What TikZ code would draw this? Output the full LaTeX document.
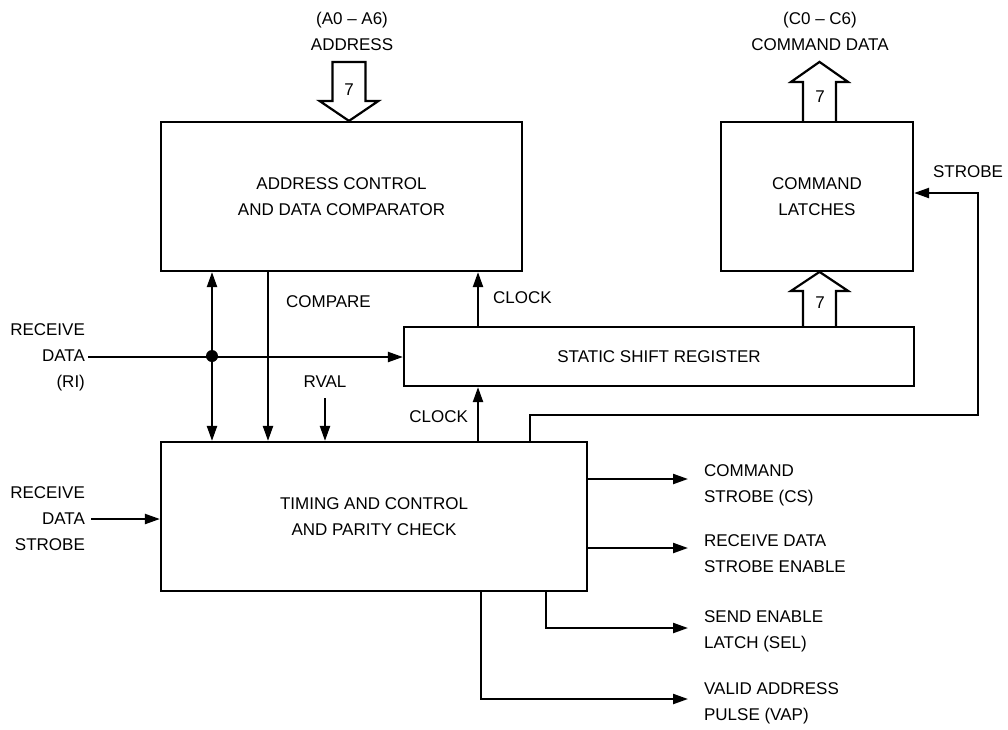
\documentclass[tikz,border=0pt]{standalone}
\usepackage{fontspec}
\setmainfont{Liberation Sans}
\usetikzlibrary{arrows.meta}
\begin{document}
\begin{tikzpicture}[x=1pt,y=-1pt,line width=2.2pt,
  every node/.style={font=\fontsize{17}{26}\selectfont,inner sep=0pt},
  blk/.style={draw,line width=2.2pt,align=center},
  arr/.style={-{Triangle[length=15pt,width=10pt]}},
  darr/.style={{Triangle[length=15pt,width=10pt]}-{Triangle[length=15pt,width=10pt]}},
  bus/.style={line width=2.2pt,line join=miter},
  lbl/.style={align=left,anchor=west},
  dot/.style={circle,fill=black,minimum size=12pt,inner sep=0pt}]
\useasboundingbox (0,0) rectangle (1008,729);

% blocks
\node[blk,minimum width=361,minimum height=149] (addr) at (341.5,196.5) {ADDRESS CONTROL\\AND DATA COMPARATOR};
\node[blk,minimum width=192,minimum height=149] (latch) at (817,196.5) {COMMAND\\LATCHES};
\node[blk,minimum width=510,minimum height=59] (reg) at (659,356.5) {STATIC SHIFT REGISTER};
\node[blk,minimum width=426,minimum height=149] (timing) at (374,516.5) {TIMING AND CONTROL\\AND PARITY CHECK};

% helper coordinates
\coordinate (ax) at (349,0);
\coordinate (cx) at (819.5,0);
\coordinate (bx) at (212,0);
\coordinate (cmpx) at (268,0);
\coordinate (clkx) at (478,0);
\coordinate (stx) at (530,0);
\coordinate (stR) at (978,415);
\coordinate (sty) at (0,193);
\coordinate (rval) at (325,398);
\coordinate (y1) at (0,479);
\coordinate (y2) at (0,548);
\coordinate (selx) at (546,0);
\coordinate (vapx) at (481,0);
\coordinate (ysel) at (0,628);
\coordinate (yvap) at (0,699);

% top labels
\node[align=center] (addrlbl) at (352,31) {(A0 – A6)\\ADDRESS};
\node[align=center] (cmdlbl) at (820,31) {(C0 – C6)\\COMMAND DATA};

% bus arrows
\draw[bus] (addr.north -| ax) -- ++(-29.5,-20) -- ++(13,0) -- ++(0,-39) -- ++(33,0) -- ++(0,39) -- ++(13,0) -- cycle;
\node (n7a) at (349,89.5) {7};
\draw[bus] (latch.north -| cx) ++(-16.5,0) -- ++(0,-39) -- ++(-12,0) -- ++(28.5,-20) -- ++(28.5,20) -- ++(-12,0) -- ++(0,39);
\node (n7b) at (820,97) {7};
\draw[bus] (reg.north -| cx) ++(-16.5,0) -- ++(0,-35) -- ++(-12,0) -- ++(28.5,-19) -- ++(28.5,19) -- ++(-12,0) -- ++(0,35);
\node (n7c) at (820,303) {7};

% receive data
\node[align=right,anchor=east,inner sep=2pt] (ri) at (88,357) {RECEIVE\\DATA\\(RI)};
\node[dot] (j) at (212,356) {};
\draw[arr] (ri.east) -- (reg.west |- ri.east);
\draw[darr] (timing.north -| bx) -- (addr.south -| bx);

% compare
\draw[arr] (addr.south -| cmpx) -- (timing.north -| cmpx);
\node[anchor=west] (cmp) at (285,302) {COMPARE};

% rval
\node (rvallbl) at (325,382) {RVAL};
\draw[arr] (rval) -- (timing.north -| rval);

% clocks
\draw[arr] (reg.north -| clkx) -- (addr.south -| clkx);
\node[anchor=west] (clk1) at (492,298) {CLOCK};
\draw[arr] (timing.north -| clkx) -- (reg.south -| clkx);
\node[anchor=east] (clk2) at (469,417) {CLOCK};

% strobe
\draw[arr] (timing.north -| stx) |- (stR) |- (latch.east |- sty);
\node[anchor=west] (stlbl) at (932,172) {STROBE};

% receive data strobe
\node[align=right,anchor=east,inner sep=2pt] (rds) at (88,519) {RECEIVE\\DATA\\STROBE};
\draw[arr] (rds.east) ++(3,0) -- (timing.west |- rds.east);

% outputs
\node[lbl] (cs) at (703,485) {COMMAND\\STROBE (CS)};
\node[lbl] (rdse) at (703,553.5) {RECEIVE DATA\\STROBE ENABLE};
\node[lbl] (sel) at (703,631) {SEND ENABLE\\LATCH (SEL)};
\node[lbl] (vap) at (703,703) {VALID ADDRESS\\PULSE (VAP)};
\draw[arr,shorten >=15pt] (timing.east |- y1) -- (cs.west |- y1);
\draw[arr,shorten >=15pt] (timing.east |- y2) -- (rdse.west |- y2);
\draw[arr,shorten >=15pt] (timing.south -| selx) |- (sel.west |- ysel);
\draw[arr,shorten >=15pt] (timing.south -| vapx) |- (vap.west |- yvap);
\end{tikzpicture}
\end{document}
